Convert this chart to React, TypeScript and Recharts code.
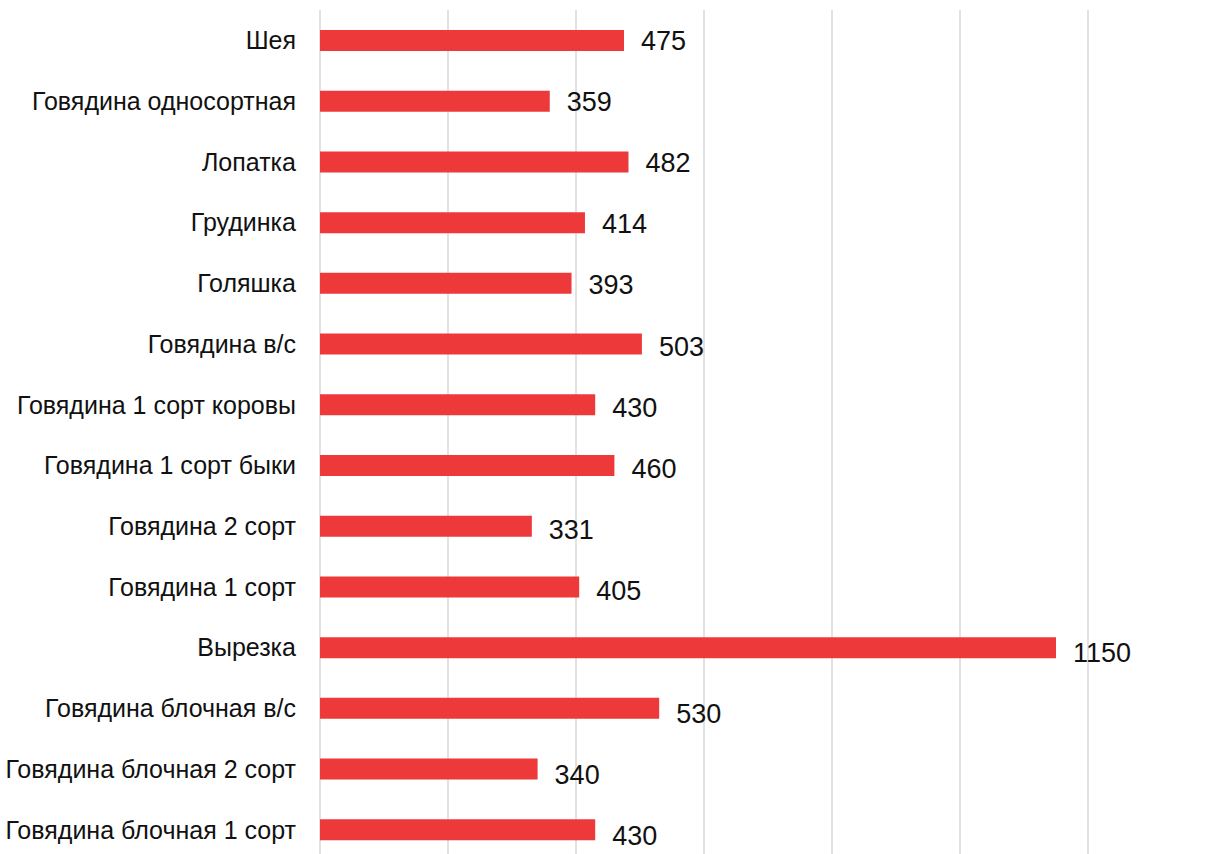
import { Bar, BarChart, CartesianGrid, LabelList, XAxis, YAxis } from 'recharts';

const categories = [
  'Шея',
  'Говядина односортная',
  'Лопатка',
  'Грудинка',
  'Голяшка',
  'Говядина в/с',
  'Говядина 1 сорт коровы',
  'Говядина 1 сорт быки',
  'Говядина 2 сорт',
  'Говядина 1 сорт',
  'Вырезка',
  'Говядина блочная в/с',
  'Говядина блочная 2 сорт',
  'Говядина блочная 1 сорт',
];

const prices = [475, 359, 482, 414, 393, 503, 430, 460, 331, 405, 1150, 530, 340, 430];

const xTicks = [0, 200, 400, 600, 800, 1000, 1200];

const data = categories.map((name, i) => ({ name, price: prices[i] }));

const FONT = '"Liberation Sans", Arial, sans-serif';

function ValueLabel(props: any) {
  const { x, y, width, height, value, index } = props;
  return (
    <text
      x={x + width + 17}
      y={y + height / 2 + index * 0.5}
      dominantBaseline="central"
      fontSize={27}
      fontFamily={FONT}
      fill="#111"
    >
      {value}
    </text>
  );
}

export default function App() {
  return (
    <div
      style={{
        position: 'fixed',
        top: 0,
        left: 0,
        width: 1205,
        height: 854,
        overflow: 'hidden',
        background: '#fff',
      }}
    >
      <BarChart
        width={1205}
        height={870}
        data={data}
        layout="vertical"
        margin={{ top: 10, right: 117, bottom: 10, left: 0 }}
      >
        <CartesianGrid horizontal={false} stroke="#d9d9d9" strokeWidth={1.5} />
        <XAxis type="number" domain={[0, 1200]} ticks={xTicks} hide />
        <YAxis
          type="category"
          dataKey="name"
          width={320}
          axisLine={false}
          tickLine={false}
          tickSize={6}
          tickMargin={18}
          interval={0}
          tick={{ fontSize: 25, fontFamily: FONT, fill: '#111' }}
        />
        <Bar dataKey="price" fill="#ee393b" barSize={21} isAnimationActive={false}>
          <LabelList dataKey="price" content={ValueLabel} />
        </Bar>
      </BarChart>
    </div>
  );
}
